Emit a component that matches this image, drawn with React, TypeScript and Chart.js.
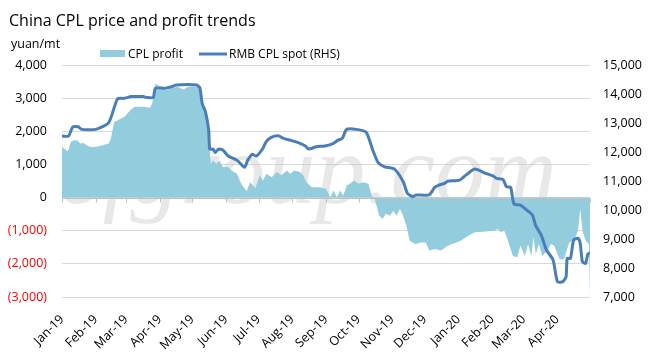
import { useEffect, useRef } from 'react';
import { Chart, registerables } from 'chart.js';

Chart.register(...registerables);

const TITLE = 'China CPL price and profit trends';
const LEFT_UNIT = 'yuan/mt';
const PROFIT_LABEL = 'CPL profit';
const PRICE_LABEL = 'RMB CPL spot (RHS)';
const WATERMARK = 'ccfgroup.com';

// x positions are days counted from 2019-01-01
const monthLabels = ['Jan-19', 'Feb-19', 'Mar-19', 'Apr-19', 'May-19', 'Jun-19', 'Jul-19', 'Aug-19', 'Sep-19', 'Oct-19', 'Nov-19', 'Dec-19', 'Jan-20', 'Feb-20', 'Mar-20', 'Apr-20'];
const monthDays = [0, 31, 59, 90, 120, 151, 181, 212, 243, 273, 304, 334, 365, 396, 425, 456];
const axisEndDay = 486; // 2020-05-01

// CPL profit (yuan/mt, left axis)
const profitDays = [0, 1, 5, 6, 8, 11, 14, 17, 20, 24, 29, 34, 43, 45, 48, 54, 58, 63, 67, 75, 81, 83, 86, 90, 96, 100, 106, 112, 116, 122, 127, 129, 132, 134, 136, 137, 139, 142, 145, 148, 153, 156, 161, 165, 170, 173, 178, 182, 185, 188, 193, 198, 202, 207, 210, 214, 219, 222, 225, 230, 237, 243, 247, 250, 253, 256, 259, 262, 265, 269, 273, 277, 282, 285, 288, 289, 292, 295, 298, 302, 305, 308, 311, 314, 317, 320, 325, 331, 335, 338, 343, 349, 355, 363, 367, 374, 380, 390, 398, 401, 404, 407, 410, 415, 419, 422, 426, 429, 432, 434, 436, 439, 442, 447, 450, 453, 458, 462, 467, 471, 475, 477, 479, 482, 485, 486];
const profitValues = [1545, 1500, 1400, 1440, 1680, 1730, 1730, 1630, 1650, 1545, 1520, 1550, 1630, 1780, 2280, 2380, 2450, 2640, 2740, 2740, 2710, 2840, 3445, 3360, 3240, 3290, 3340, 3260, 3340, 3340, 3310, 2840, 2640, 2130, 1420, 1020, 1120, 1020, 1120, 920, 920, 820, 720, 415, 190, 460, 290, 670, 515, 720, 615, 770, 670, 820, 720, 820, 770, 670, 460, 310, 310, 265, 10, 210, 10, 210, 60, 365, 415, 515, 415, 465, 415, 60, -40, -190, -545, -645, -490, -545, -395, -545, -340, -545, -850, -1300, -1400, -1355, -1355, -1600, -1555, -1600, -1455, -1355, -1300, -1150, -1050, -1020, -1000, -950, -1050, -1000, -1250, -1760, -1800, -1450, -1760, -1400, -1760, -1200, -1700, -1400, -1760, -1600, -1400, -1450, -1860, -1860, -1350, -1300, -1000, -340, -1000, -1300, -1400, -3000];

// RMB CPL spot (yuan/mt, right axis)
const priceDays = [0, 6, 10, 15, 18, 31, 43, 51, 57, 64, 75, 78, 84, 86, 95, 100, 105, 124, 127, 129, 132, 135, 136, 139, 141, 144, 148, 153, 161, 168, 171, 175, 179, 185, 188, 193, 199, 204, 210, 219, 224, 227, 234, 242, 250, 254, 258, 262, 271, 280, 286, 291, 297, 306, 314, 318, 323, 326, 338, 343, 347, 352, 355, 366, 372, 380, 390, 397, 400, 406, 409, 413, 416, 422, 427, 433, 436, 441, 446, 452, 456, 461, 464, 465, 468, 471, 475, 477, 479, 482, 484, 486];
const priceValues = [12550, 12550, 12870, 12870, 12780, 12780, 13010, 13830, 13850, 13910, 13910, 13880, 13880, 14200, 14200, 14240, 14310, 14310, 14200, 13680, 13390, 12760, 12100, 12100, 11980, 12100, 12070, 11860, 11720, 11470, 11720, 11920, 11860, 12130, 12360, 12510, 12560, 12470, 12410, 12300, 12210, 12100, 12180, 12210, 12300, 12410, 12470, 12780, 12780, 12680, 12070, 11630, 11490, 11410, 10980, 10570, 10460, 10520, 10520, 10780, 10860, 10920, 10990, 11030, 11210, 11410, 11260, 11170, 11090, 11050, 10800, 10780, 10210, 10170, 10020, 9830, 9460, 9140, 8620, 8280, 7530, 7530, 7700, 8330, 8330, 8970, 9020, 8850, 8220, 8160, 8480, 8530];

const FONT = '"Open Sans", "Liberation Sans", sans-serif';
const PROFIT_COLOR = '#93CDDD';
const PRICE_COLOR = '#4A7EBB';

const fmt = (v: number) => Math.abs(v).toLocaleString('en-US');

const decorPlugin = {
  id: 'decor',
  beforeDatasetsDraw(chart: any) {
    const { ctx, chartArea } = chart;
    ctx.save();
    ctx.beginPath();
    ctx.rect(chartArea.left, chartArea.top, chartArea.right - chartArea.left, chartArea.bottom - chartArea.top);
    ctx.clip();
    ctx.font = 'italic 100px "Liberation Serif", serif';
    ctx.fillStyle = 'rgba(200,200,200,0.42)';
    ctx.textAlign = 'right';
    ctx.textBaseline = 'alphabetic';
    ctx.fillText(WATERMARK, 557, 203);
    ctx.restore();
  },
  afterDatasetDraw(chart: any, args: any) {
    if (args.index !== 0) return;
    const { ctx, chartArea, scales } = chart;
    const y0 = Math.round(scales.y.getPixelForValue(0)) + 0.5;
    ctx.save();
    ctx.strokeStyle = '#BFBFBF';
    ctx.lineWidth = 1;
    ctx.beginPath();
    ctx.moveTo(chartArea.left, y0);
    ctx.lineTo(chartArea.right, y0);
    [...monthDays, axisEndDay].forEach((d) => {
      const x = Math.round(scales.x.getPixelForValue(d)) + 0.5;
      ctx.moveTo(x, y0);
      ctx.lineTo(x, y0 + 4);
    });
    ctx.stroke();
    ctx.restore();
  },
  afterDraw(chart: any) {
    const { ctx } = chart;
    ctx.save();
    ctx.fillStyle = '#000';
    ctx.textBaseline = 'alphabetic';
    ctx.textAlign = 'left';
    ctx.font = `16px ${FONT}`;
    ctx.fillText(TITLE, 9, 26);
    ctx.font = `12.5px ${FONT}`;
    ctx.fillText(LEFT_UNIT, 11, 48);
    // legend
    ctx.font = `12px ${FONT}`;
    ctx.fillStyle = PROFIT_COLOR;
    ctx.fillRect(100, 50, 25, 7);
    ctx.fillStyle = '#000';
    ctx.fillText(PROFIT_LABEL, 128, 58);
    ctx.strokeStyle = PRICE_COLOR;
    ctx.lineWidth = 3;
    ctx.beginPath();
    ctx.moveTo(199, 54);
    ctx.lineTo(227, 54);
    ctx.stroke();
    ctx.fillText(PRICE_LABEL, 229, 58);
    ctx.restore();
  },
};

export default function App() {
  const ref = useRef<HTMLCanvasElement>(null);
  useEffect(() => {
    const canvas = ref.current;
    if (!canvas) return;
    const chart = new Chart(canvas, {
      type: 'line',
      data: {
        datasets: [
          {
            label: PROFIT_LABEL,
            data: profitDays.map((d, i) => ({ x: d, y: profitValues[i] })),
            yAxisID: 'y',
            backgroundColor: PROFIT_COLOR,
            borderColor: PROFIT_COLOR,
            borderWidth: 0,
            pointRadius: 0,
            fill: 'origin',
            tension: 0,
            order: 1,
          },
          {
            label: PRICE_LABEL,
            data: priceDays.map((d, i) => ({ x: d, y: priceValues[i] })),
            yAxisID: 'y1',
            borderColor: PRICE_COLOR,
            backgroundColor: PRICE_COLOR,
            borderWidth: 3,
            pointRadius: 0,
            fill: false,
            tension: 0.2,
            order: 0,
          },
        ],
      },
      options: {
        responsive: false,
        animation: false,
        layout: { padding: { top: 65, left: 0, right: 0, bottom: 0 } },
        plugins: { legend: { display: false }, tooltip: { enabled: false }, title: { display: false } },
        scales: {
          x: {
            type: 'linear',
            min: 0,
            max: axisEndDay,
            grid: { display: false, drawTicks: false },
            border: { display: false },
            afterBuildTicks: (scale: any) => {
              scale.ticks = monthDays.map((v) => ({ value: v }));
            },
            afterFit: (scale: any) => {
              scale.height = 62;
            },
            ticks: {
              autoSkip: false,
              minRotation: 45,
              maxRotation: 45,
              padding: 15,
              color: '#000',
              font: { family: FONT, size: 12.5 },
              callback: (v: any) => {
                const i = monthDays.indexOf(Number(v));
                return i >= 0 ? monthLabels[i] : '';
              },
            },
          },
          y: {
            position: 'left',
            min: -3000,
            max: 4000,
            grid: { color: '#D9D9D9', drawTicks: false },
            border: { display: false },
            afterFit: (scale: any) => {
              scale.width = 62;
            },
            ticks: {
              stepSize: 1000,
              padding: 15,
              font: { family: FONT, size: 12.5 },
              color: (c: any) => (c.tick && c.tick.value < 0 ? '#FF0000' : '#000'),
              callback: (v: any) => (v < 0 ? `(${fmt(v)})` : fmt(v)),
            },
          },
          y1: {
            position: 'right',
            min: 7000,
            max: 15000,
            grid: { display: false, drawTicks: false },
            border: { display: false },
            afterFit: (scale: any) => {
              scale.width = 78;
            },
            ticks: {
              stepSize: 1000,
              padding: 13,
              color: '#000',
              font: { family: FONT, size: 12.5 },
              callback: (v: any) => fmt(v),
            },
          },
        },
      },
      plugins: [decorPlugin],
    } as any);
    return () => chart.destroy();
  }, []);
  return (
    <div style={{ position: 'fixed', left: 0, top: 0, width: 668, height: 359, background: '#fff' }}>
      <canvas ref={ref} width={668} height={359} />
    </div>
  );
}
